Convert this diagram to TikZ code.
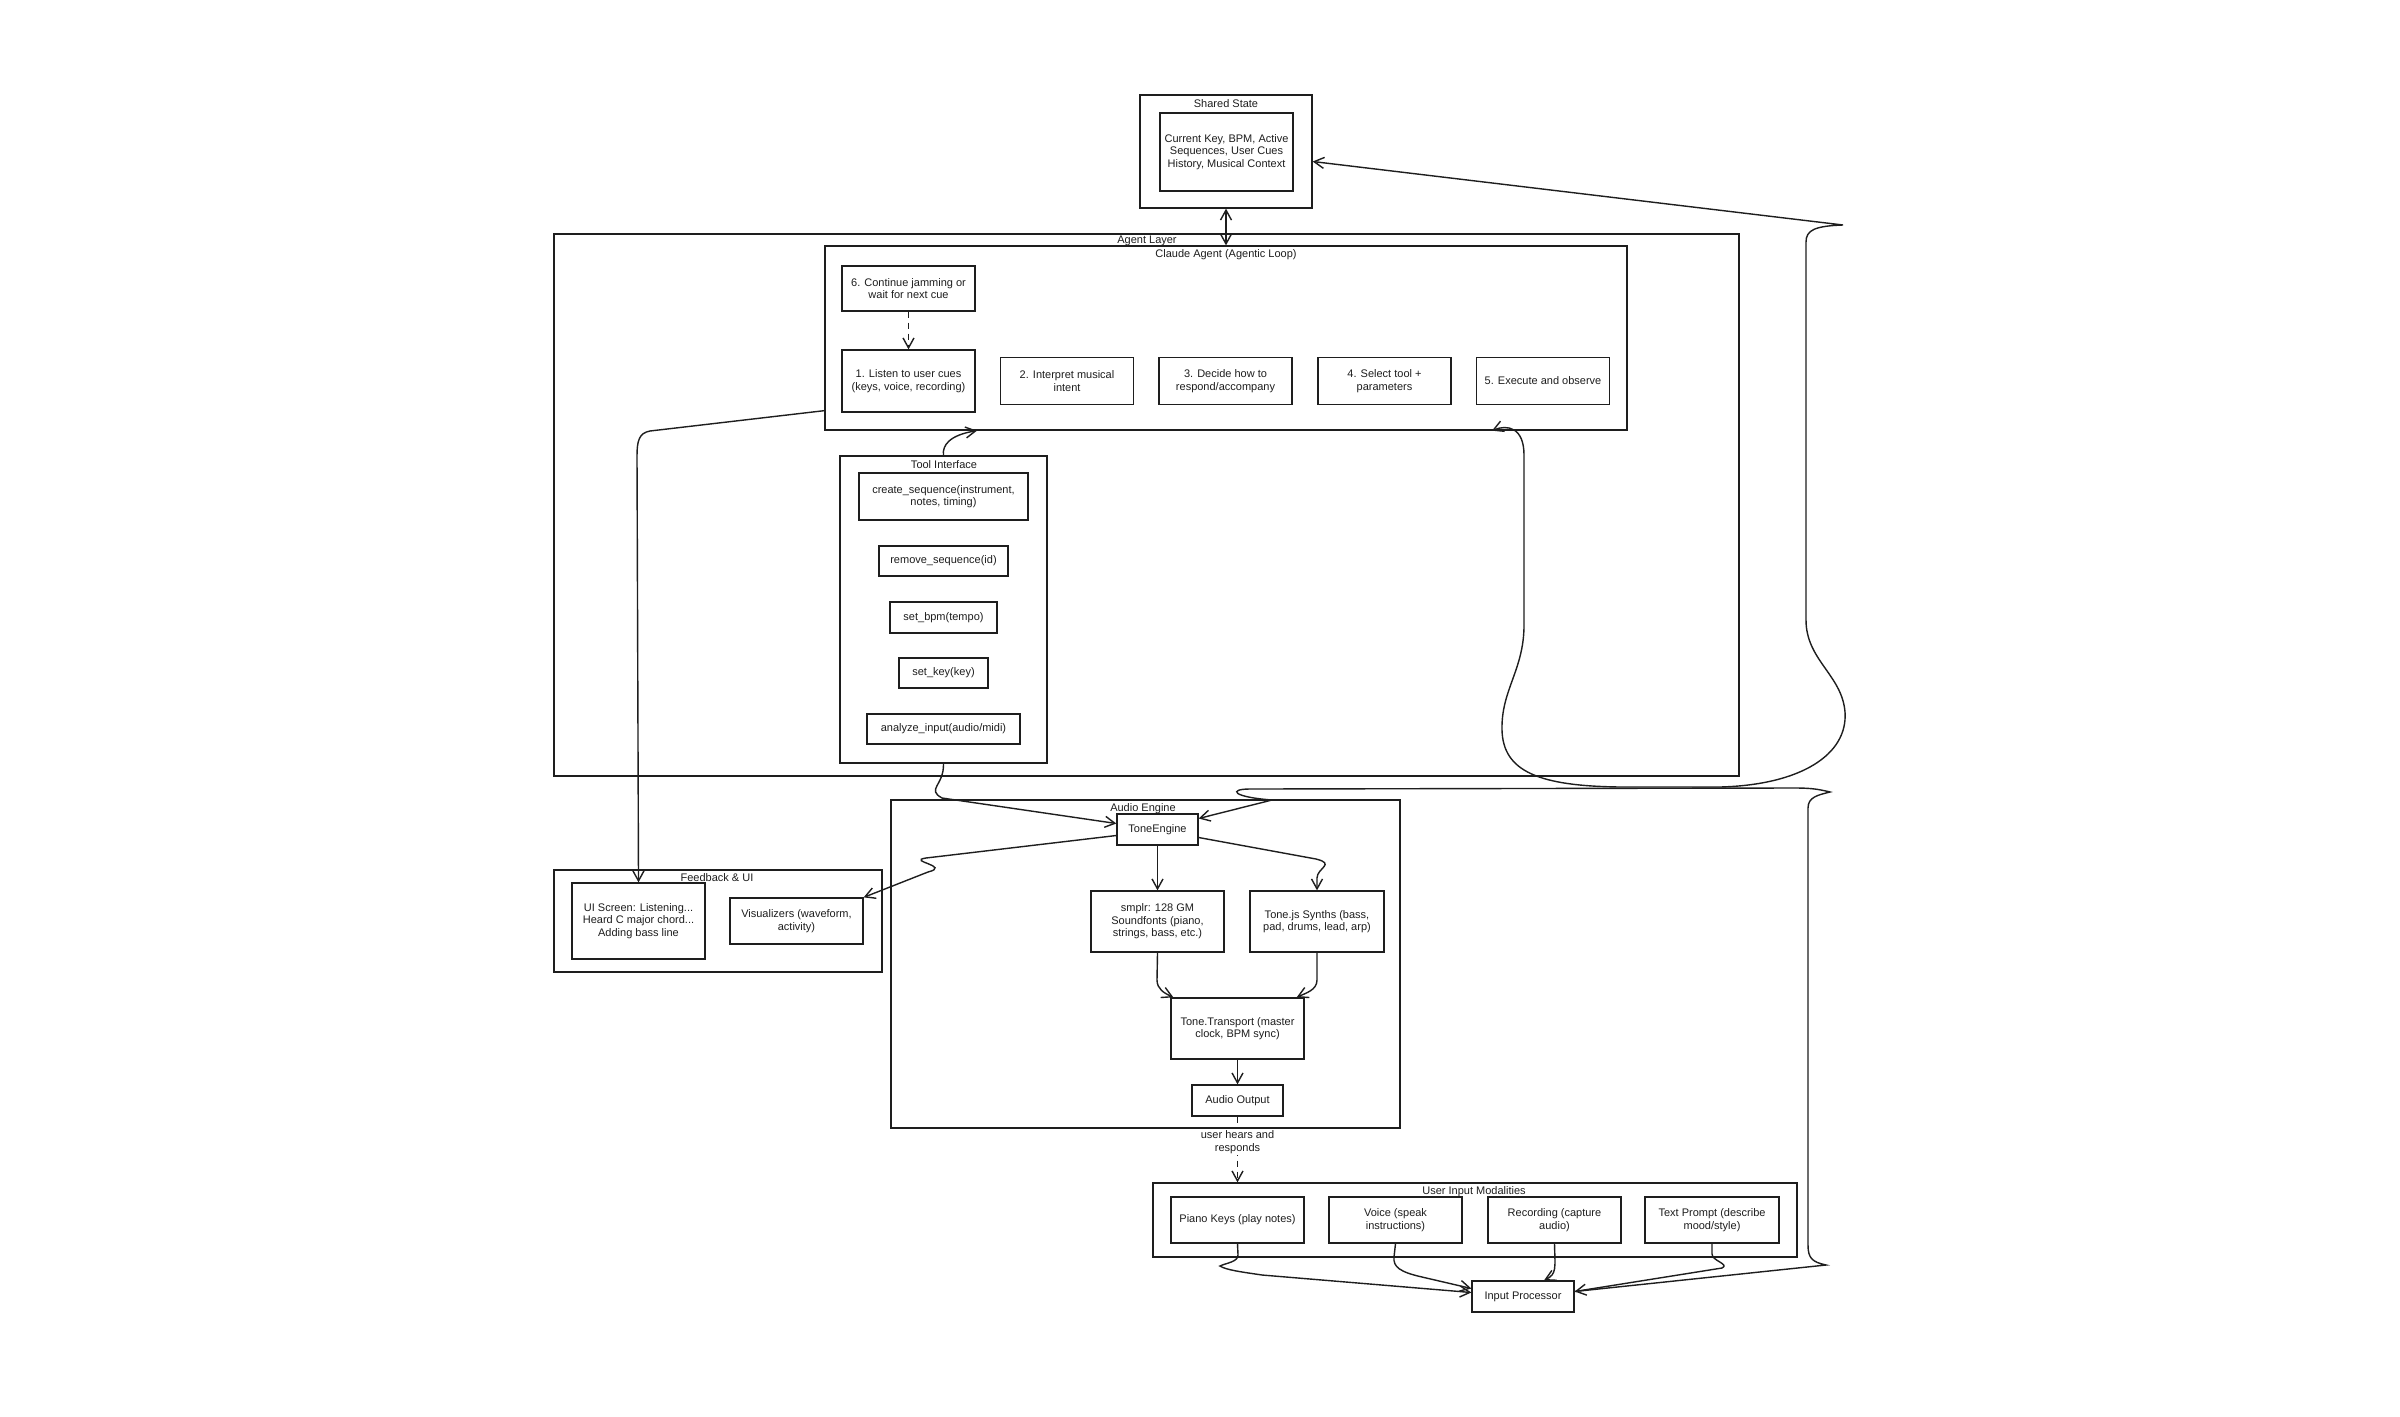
\documentclass[tikz,border=0pt]{standalone}
\usepackage{fontspec}
\setmainfont{Liberation Sans}
\usetikzlibrary{arrows.meta}
\definecolor{ink}{HTML}{1E1E1E}
\begin{document}
\begin{tikzpicture}[x=1pt,y=-1pt,
  >={Straight Barb[length=10pt,width=11pt]},
  txt/.style={font=\fontsize{11}{12.4}\selectfont, text=ink},
  box/.style={txt, draw=ink, line width=1.3pt, fill=white, align=center, inner sep=2pt},
  grp/.style={draw=ink, line width=1.3pt, inner sep=0pt},
  ttl/.style={txt, inner sep=1pt},
  arr/.style={draw=ink, line width=1.4pt, ->},
  dsh/.style={arr, dash pattern=on 6pt off 5pt},
  lbl/.style={txt, fill=white, align=center, inner sep=1.5pt}
]
\useasboundingbox (0,0) rectangle (2400,1416);
\fill[white] (0,0) rectangle (2400,1416);

% ---------- containers ----------
\node[grp, minimum width=172pt, minimum height=113pt] (ss) at (1226,151.5) {};
\node[grp, minimum width=1185pt, minimum height=542pt] (al) at (1146.5,505) {};
\node[grp, minimum width=802pt, minimum height=184pt] (ca) at (1226,338) {};
\node[grp, minimum width=207pt, minimum height=307pt] (ti) at (943.5,609.5) {};
\node[grp, minimum width=328pt, minimum height=102pt] (fb) at (718,921) {};
\node[grp, minimum width=509pt, minimum height=328pt] (ae) at (1145.5,964) {};
\node[grp, minimum width=644pt, minimum height=74pt] (uim) at (1475,1220) {};

% ---------- boxes ----------
\node[box, minimum width=133pt, minimum height=78pt] (ssi) at (1226.5,152) {Current Key, BPM, Active\\Sequences, User Cues\\History, Musical Context};

\node[box, minimum width=133pt, minimum height=45pt] (s6) at (908.5,288.5) {6. Continue jamming or\\wait for next cue};
\node[box, minimum width=133pt, minimum height=62pt] (s1) at (908.5,381) {1. Listen to user cues\\(keys, voice, recording)};
\node[box, minimum width=133pt, minimum height=47pt] (s2) at (1067,381) {2. Interpret musical\\intent};
\node[box, minimum width=133pt, minimum height=47pt] (s3) at (1225.5,381) {3. Decide how to\\respond/accompany};
\node[box, minimum width=133pt, minimum height=47pt] (s4) at (1384.5,381) {4. Select tool +\\parameters};
\node[box, minimum width=133pt, minimum height=47pt] (s5) at (1543,381) {5. Execute and observe};

\node[box, minimum width=169pt, minimum height=47pt] (t1) at (943.5,496.5) {create\_sequence(instrument,\\notes, timing)};
\node[box, minimum width=129pt, minimum height=30pt] (t2) at (943.5,561) {remove\_sequence(id)};
\node[box, minimum width=107pt, minimum height=31pt] (t3) at (943.5,617.5) {set\_bpm(tempo)};
\node[box, minimum width=89pt, minimum height=30pt] (t4) at (943.5,673) {set\_key(key)};
\node[box, minimum width=153pt, minimum height=30pt] (t5) at (943.5,729) {analyze\_input(audio/midi)};

\node[box, minimum width=133pt, minimum height=76pt] (ui) at (638.5,921) {UI Screen: Listening...\\Heard C major chord...\\Adding bass line};
\node[box, minimum width=133pt, minimum height=46pt] (vis) at (796.5,921) {Visualizers (waveform,\\activity)};

\node[box, minimum width=81pt, minimum height=31pt] (te) at (1157.5,829.5) {ToneEngine};
\node[box, minimum width=133pt, minimum height=61pt] (sm) at (1157.5,921.5) {smplr: 128 GM\\Soundfonts (piano,\\strings, bass, etc.)};
\node[box, minimum width=134pt, minimum height=61pt] (syn) at (1317,921.5) {Tone.js Synths (bass,\\pad, drums, lead, arp)};
\node[box, minimum width=133pt, minimum height=61pt] (tr) at (1237.5,1028.5) {Tone.Transport (master\\clock, BPM sync)};
\node[box, minimum width=91pt, minimum height=31pt] (ao) at (1237.5,1100.5) {Audio Output};

\node[box, minimum width=133pt, minimum height=46pt] (pk) at (1237.5,1220) {Piano Keys (play notes)};
\node[box, minimum width=133pt, minimum height=46pt] (vo) at (1395.5,1220) {Voice (speak\\instructions)};
\node[box, minimum width=133pt, minimum height=46pt] (rec) at (1554.5,1220) {Recording (capture\\audio)};
\node[box, minimum width=134pt, minimum height=46pt] (tp) at (1712,1220) {Text Prompt (describe\\mood/style)};
\node[box, minimum width=102pt, minimum height=31pt] (ip) at (1523,1296.5) {Input Processor};

% ---------- connectors ----------
\draw[arr, <->] (ss.south) -- (ca.north);
\draw[dsh] (s6.south) -- (s1.north);

% Claude Agent -> UI screen
\draw[arr] ([yshift=20pt]ca.south west) -- (650,431) .. controls (639,433) and (637,441) .. (637,456) -- (ui.north);

% Tool Interface -> Claude Agent
\draw[arr] (ti.north) .. controls (942,445) and (950,435) .. ([xshift=-249pt]ca.south);

% Tool Interface -> ToneEngine
\draw[arr] (ti.south) .. controls (944,786) and (926,789) .. (942,798) -- ([yshift=6pt]te.west);

% ToneEngine -> Visualizers
\draw[arr] ([yshift=-6pt]te.west) -- (926,858) .. controls (906,861) and (952,866) .. (928,872) -- (vis.north east);

% ToneEngine -> smplr, Synths
\draw[arr] (te.south) -- (sm.north);
\draw[arr] ([yshift=-8pt]te.east) -- (1316,859) .. controls (1336,864) and (1317,868) .. (1317,878) -- (syn.north);

% smplr, Synths -> Transport
\draw[arr] (sm.south) -- (1157,980) .. controls (1157,989) and (1164,993) .. ([xshift=3pt]tr.north west);
\draw[arr] (syn.south) -- (1317,980) .. controls (1317,990) and (1306,993) .. ([xshift=-8pt]tr.north east);

% Transport -> Audio Output
\draw[arr] (tr.south) -- (ao.north);

% Audio Output -> User Input Modalities
\draw[dsh] (ao.south) -- node[lbl, pos=0.39] {user hears and\\responds} (ao.south |- uim.north);

% inputs -> Input Processor
\draw[arr] (pk.south) -- (1238,1255) .. controls (1238,1262) and (1226,1263) .. (1220,1266) .. controls (1226,1270) and (1242,1272) .. (1262,1275) -- ([yshift=4pt]ip.west);
\draw[arr] (vo.south) -- (1394,1257) .. controls (1393,1267) and (1400,1272) .. (1422,1277) -- ([yshift=8pt]ip.west);
\draw[arr] (rec.south) .. controls (1555,1268) and (1557,1274) .. ([xshift=21pt]ip.north);
\draw[arr] (tp.south) -- (1712,1254) .. controls (1712,1261) and (1730,1264) .. (1722,1268) -- ([yshift=5pt]ip.east);

% Input Processor -> ToneEngine (long right route)
\draw[arr] ([yshift=5pt]ip.east) -- (1826,1265) .. controls (1812,1262) and (1808,1258) .. (1808,1245)
  -- (1808,808) .. controls (1808,797) and (1818,795) .. (1830,792)
  .. controls (1818,789) and (1810,788) .. (1795,788)
  -- (1250,789) .. controls (1228,789) and (1232,797) .. (1272,800)
  -- ([yshift=11pt]te.east);

% Claude Agent <-> Shared State (loop on the right)
\draw[arr, <->] ([xshift=266pt]ca.south) .. controls (1508,424) and (1524,428) .. (1524,455)
  -- (1524,625) .. controls (1524,670) and (1501,690) .. (1502,730)
  .. controls (1503,772) and (1540,786) .. (1620,787)
  -- (1720,787) .. controls (1800,785) and (1848,755) .. (1845,712)
  .. controls (1842,675) and (1806,660) .. (1806,620)
  -- (1806,242) .. controls (1806,230) and (1815,226) .. (1843,225)
  -- ([yshift=-10pt]ss.east);

% ---------- titles ----------
\node[ttl] (tss) at (1226,104) {Shared State};
\node[ttl] (tal) at (1147,241) {Agent Layer};
\node[ttl] (tca) at (1226,255) {Claude Agent (Agentic Loop)};
\node[ttl] (tti) at (944,465) {Tool Interface};
\node[ttl] (tfb) at (717,878) {Feedback \& UI};
\node[ttl] (tae) at (1143,809) {Audio Engine};
\node[ttl] (tuim) at (1474,1192) {User Input Modalities};
\end{tikzpicture}
\end{document}
